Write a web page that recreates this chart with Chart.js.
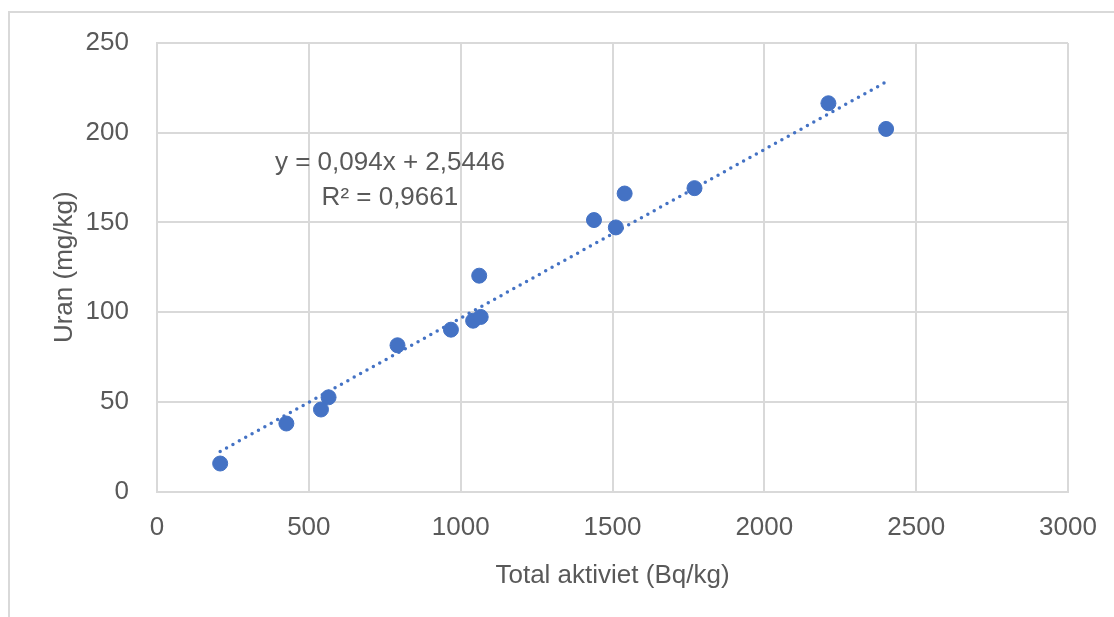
<!DOCTYPE html>
<html>
<head>
<meta charset="utf-8">
<script src="https://cdn.jsdelivr.net/npm/chart.js@4/dist/chart.umd.min.js"></script>
<style>
  html, body { margin: 0; padding: 0; background: #ffffff; }
  #wrap { position: relative; width: 1114px; height: 617px; overflow: hidden; }
  #frame { position: absolute; left: 8px; top: 11px; right: -5px; bottom: -5px;
           border-left: 2px solid #d9d9d9; border-top: 2px solid #d9d9d9; }
  canvas { position: absolute; left: 0; top: 0; }
</style>
</head>
<body>
<div id="wrap">
  <div id="frame"></div>
  <canvas id="c" width="1114" height="617"></canvas>
</div>
<script>
// Data
const totalActivity = [208, 426, 540, 565, 792, 968, 1041, 1066, 1061, 1439, 1511, 1540, 1770, 2211, 2401];
const uranium       = [15.6, 37.9, 45.7, 52.5, 81.5, 90.2, 95.2, 97.3, 120.3, 151.3, 147.2, 166.1, 169.1, 216.4, 202.1];
const trendX = [208, 2400];
const trendY = [22.3, 228.2];
const equationLabel = "y = 0,094x + 2,5446";
const r2Label = "R² = 0,9661";
const xTitle = "Total aktiviet (Bq/kg)";
const yTitle = "Uran (mg/kg)";

const FONT = "'Liberation Sans', Arial, sans-serif";
const TEXT = '#595959';
const GRID = '#d9d9d9';
const BLUE = '#4472C4';

const points = totalActivity.map((x, i) => ({ x: x, y: uranium[i] }));
const trend = trendX.map((x, i) => ({ x: x, y: trendY[i] }));

const labelPlugin = {
  id: 'eqLabel',
  afterDatasetsDraw(chart) {
    const ctx = chart.ctx;
    const xs = chart.scales.x, ys = chart.scales.y;
    const cx = xs.getPixelForValue(767);
    ctx.save();
    ctx.font = '26px ' + FONT;
    ctx.fillStyle = TEXT;
    ctx.textAlign = 'center';
    ctx.textBaseline = 'middle';
    ctx.fillText(equationLabel, cx, ys.getPixelForValue(183));
    ctx.fillText(r2Label, cx, ys.getPixelForValue(163.5));
    ctx.restore();
  }
};

new Chart(document.getElementById('c'), {
  type: 'scatter',
  data: {
    datasets: [
      {
        label: 'Uran',
        data: points,
        backgroundColor: BLUE,
        borderColor: BLUE,
        borderWidth: 1,
        pointRadius: 7.5,
        pointHoverRadius: 7.5
      },
      {
        label: 'Trend',
        data: trend,
        showLine: true,
        borderColor: BLUE,
        borderWidth: 3.5,
        borderDash: [0, 7.3],
        borderCapStyle: 'round',
        pointRadius: 0,
        fill: false
      }
    ]
  },
  options: {
    responsive: false,
    animation: false,
    events: [],
    layout: { padding: { left: 20, right: 46, top: 43, bottom: 20 } },
    plugins: { legend: { display: false }, tooltip: { enabled: false } },
    scales: {
      x: {
        type: 'linear',
        min: 0, max: 3000,
        afterFit(s) { s.height = 105.5; s.paddingLeft = 0; s.paddingRight = 0; },
        ticks: { stepSize: 500, color: TEXT, font: { family: FONT, size: 26 }, padding: 21,
                 callback: (v) => String(v) },
        grid: { color: GRID, lineWidth: 2, drawTicks: false },
        border: { color: GRID, width: 2 },
        title: { display: true, text: xTitle, color: TEXT, font: { family: FONT, size: 26 }, padding: { top: 0, bottom: 6 } }
      },
      y: {
        type: 'linear',
        min: 0, max: 250,
        afterFit(s) { s.width = 137; s.paddingTop = 0; s.paddingBottom = 0; },
        ticks: { stepSize: 50, color: TEXT, font: { family: FONT, size: 26 }, padding: 28,
                 callback: (v) => String(v) },
        grid: { color: GRID, lineWidth: 2, drawTicks: false },
        border: { color: GRID, width: 2 },
        title: { display: true, text: yTitle, color: TEXT, font: { family: FONT, size: 26 }, padding: { top: 29, bottom: 0 } }
      }
    }
  },
  plugins: [labelPlugin]
});
</script>
</body>
</html>
